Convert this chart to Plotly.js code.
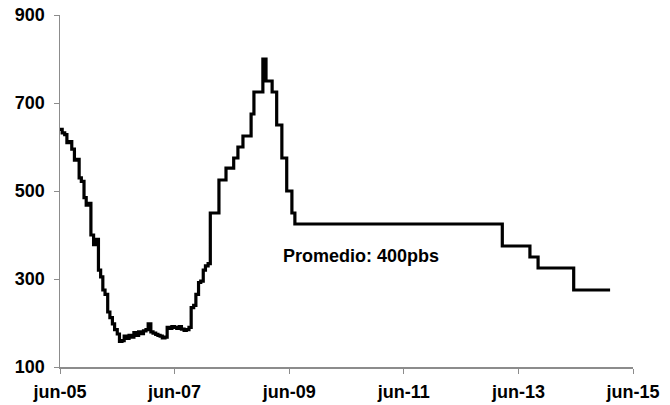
<!DOCTYPE html>
<html>
<head>
<meta charset="utf-8">
<script src="https://cdn.plot.ly/plotly-3.0.1.min.js"></script>
<style>
  html, body { margin: 0; padding: 0; background: #ffffff; }
  #chart { width: 670px; height: 405px; }
</style>
</head>
<body>
<div id="chart"></div>
<script>
// fechas y valores (pbs)
const fechas = [
  "2005-06-01", "2005-06-15", "2005-07-01", "2005-07-15", "2005-08-01", "2005-08-15",
  "2005-09-01", "2005-09-15", "2005-10-01", "2005-10-15", "2005-11-01", "2005-11-15",
  "2005-12-01", "2005-12-15", "2006-01-01", "2006-01-15", "2006-02-01", "2006-02-15",
  "2006-03-01", "2006-03-15", "2006-04-01", "2006-04-15", "2006-05-01", "2006-05-15",
  "2006-06-01", "2006-06-15", "2006-07-01", "2006-07-15", "2006-08-01", "2006-08-15",
  "2006-09-01", "2006-09-15", "2006-10-01", "2006-10-15", "2006-11-01", "2006-11-15",
  "2006-12-01", "2006-12-15", "2007-01-01", "2007-01-15", "2007-02-01", "2007-02-15",
  "2007-03-01", "2007-03-15", "2007-04-01", "2007-04-15", "2007-05-01", "2007-05-15",
  "2007-06-01", "2007-06-15", "2007-07-01", "2007-07-15", "2007-08-01", "2007-08-15",
  "2007-09-01", "2007-09-15", "2007-10-01", "2007-10-15", "2007-11-01", "2007-11-15",
  "2007-12-01", "2007-12-15", "2008-01-01", "2008-01-15",
  "2008-03-10", "2008-04-24", "2008-06-12", "2008-07-09", "2008-08-10", "2008-10-01",
  "2008-10-19", "2008-12-15", "2009-01-04", "2009-02-12", "2009-03-13", "2009-04-15",
  "2009-05-16", "2009-06-18", "2009-07-07", "2013-02-18", "2013-08-13", "2013-10-04",
  "2014-05-19", "2015-01-06"
];
const valores = [
  640, 632, 628, 610, 612, 595,
  570, 572, 530, 522, 485, 468,
  472, 400, 378, 390, 320, 305,
  275, 265, 225, 212, 198, 185,
  175, 158, 160, 170, 165, 172,
  168, 178, 172, 180, 176, 182,
  185, 198, 180, 177, 174, 172,
  170, 166, 168, 190, 188, 192,
  190, 188, 192, 186, 183, 185,
  190, 235, 240, 265, 292, 295,
  320, 330, 335, 450,
  525, 552, 575, 600, 625, 675,
  725, 800, 750, 725, 650, 575,
  500, 450, 425, 375, 350, 325,
  275, 275
];

const ejeXTicks = ["2005-06-01", "2007-06-01", "2009-06-01", "2011-06-01", "2013-06-01", "2015-06-01"];
const ejeXEtiquetas = ["jun-05", "jun-07", "jun-09", "jun-11", "jun-13", "jun-15"];
const ejeYTicks = [100, 300, 500, 700, 900];

const nota = { fecha: "2009-04-10", valor: 352, texto: "Promedio: 400pbs" };

const familia = "Liberation Sans, Arial, sans-serif";
const fuente = { family: familia, size: 18, color: "#000000" };

const data = [{
  x: fechas,
  y: valores,
  type: "scatter",
  mode: "lines",
  line: { color: "#000000", width: 3.2, shape: "hv" },
  hoverinfo: "skip"
}];

const layout = {
  width: 670,
  height: 405,
  margin: { t: 15, r: 37, b: 38, l: 60 },
  paper_bgcolor: "#ffffff",
  plot_bgcolor: "#ffffff",
  showlegend: false,
  font: fuente,
  xaxis: {
    type: "date",
    range: ["2005-06-01", "2015-06-01"],
    tickmode: "array",
    tickvals: ejeXTicks,
    ticktext: ejeXEtiquetas.map((t) => `<b>${t}</b>`),
    showgrid: false,
    zeroline: false,
    showline: true,
    linecolor: "#8c8c8c",
    linewidth: 1.5,
    ticks: "outside",
    ticklen: 5,
    tickcolor: "#8c8c8c",
    tickfont: fuente,
    ticklabelstandoff: 3
  },
  yaxis: {
    range: [100, 900],
    tickmode: "array",
    tickvals: ejeYTicks,
    ticktext: ejeYTicks.map((v) => `<b>${v}</b>`),
    showgrid: false,
    zeroline: false,
    showline: true,
    linecolor: "#8c8c8c",
    linewidth: 1.5,
    ticks: "outside",
    ticklen: 5,
    tickcolor: "#8c8c8c",
    tickfont: fuente,
    ticklabelstandoff: 5
  },
  annotations: [{
    x: nota.fecha,
    y: nota.valor,
    xref: "x",
    yref: "y",
    text: `<b>${nota.texto}</b>`,
    showarrow: false,
    xanchor: "left",
    yanchor: "middle",
    font: { family: familia, size: 18, color: "#000000" }
  }]
};

Plotly.newPlot("chart", data, layout, { displayModeBar: false, staticPlot: true });
</script>
</body>
</html>
